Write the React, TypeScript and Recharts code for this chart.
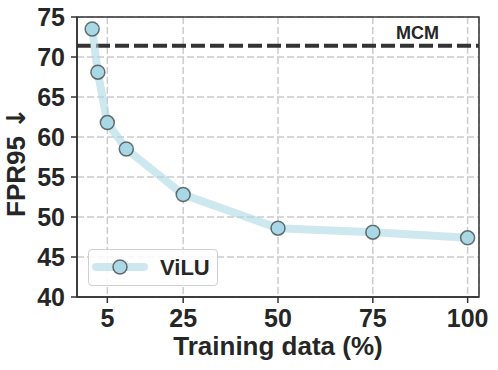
import React from 'react';
import {
  LineChart, Line, XAxis, YAxis, CartesianGrid, ReferenceLine, ReferenceArea, Legend,
} from 'recharts';

const trainingPct = [1, 2.5, 5, 10, 25, 50, 75, 100];
const viluFpr = [73.5, 68.1, 61.8, 58.5, 52.8, 48.6, 48.1, 47.4];
const mcmFpr = 71.4;
const xTicks = [5, 25, 50, 75, 100];
const yTicks = [40, 45, 50, 55, 60, 65, 70, 75];

const data = trainingPct.map((x, i) => ({ x, vilu: viluFpr[i] }));

const FONT = '"Liberation Sans", Arial, sans-serif';
const TXT = '#262626';

const renderLegend = () => (
  <div
    style={{
      width: 128,
      height: 35,
      border: '1px solid #d0d0d0',
      borderRadius: 4,
      background: 'rgba(255,255,255,0.85)',
      position: 'relative',
      fontFamily: FONT,
    }}
  >
    <svg width={128} height={35} style={{ position: 'absolute', left: 0, top: 0 }}>
      <line x1={7} y1={17} x2={55} y2={17} stroke="#add8e6" strokeOpacity={0.6} strokeWidth={8} strokeLinecap="round" />
      <circle cx={31} cy={17} r={7} fill="#add8e6" stroke="#1a1a1a" strokeOpacity={0.6} strokeWidth={1.5} />
      <text x={71} y={25} fontSize={22} fontWeight="bold" fill={TXT} fontFamily={FONT}>ViLU</text>
    </svg>
  </div>
);

const mcmLabel = (props: any) => {
  const vb = props.viewBox || {};
  return (
    <text
      x={vb.x + vb.width - 40}
      y={vb.y - 7}
      textAnchor="end"
      fontSize={18}
      fontWeight="bold"
      fill={TXT}
      fontFamily={FONT}
    >
      MCM
    </text>
  );
};

const xLabel = (props: any) => {
  const vb = props.viewBox || {};
  return (
    <text x={vb.x + vb.width / 2} y={355} textAnchor="middle" fontSize={26} fontWeight="bold" fill={TXT} fontFamily={FONT}>
      Training data (%)
    </text>
  );
};

const yLabel = () => (
  <text
    x={25}
    y={217}
    transform="rotate(-90, 25, 217)"
    textAnchor="start"
    fontSize={26}
    fontWeight="bold"
    fill={TXT}
    fontFamily={FONT}
  >
    FPR95 <tspan fontFamily='"DejaVu Sans", sans-serif'>↓</tspan>
  </text>
);

export default function App() {
  return (
    <div style={{ position: 'absolute', left: 0, top: 0, width: 498, height: 370, background: '#fff' }}>
      <LineChart
        width={498}
        height={370}
        data={data}
        margin={{ top: 17, right: 19, left: 0, bottom: 0 }}
        style={{ fontFamily: FONT }}
      >
        <CartesianGrid stroke="#cccccc" strokeWidth={1.5} strokeDasharray="7 3" />
        <XAxis
          dataKey="x"
          type="number"
          domain={[-3, 103]}
          ticks={xTicks}
          allowDataOverflow
          height={73}
          tickSize={6}
          tickMargin={6}
          axisLine={{ stroke: '#333', strokeWidth: 1.5 }}
          tickLine={{ stroke: '#333', strokeWidth: 1.5 }}
          tick={{ fill: TXT, fontSize: 25, fontWeight: 'bold', fontFamily: FONT }}
          label={xLabel}
        />
        <YAxis
          type="number"
          domain={[40, 75]}
          ticks={yTicks}
          allowDataOverflow
          width={77}
          tickSize={6}
          tickMargin={6}
          axisLine={{ stroke: '#333', strokeWidth: 1.5 }}
          tickLine={{ stroke: '#333', strokeWidth: 1.5 }}
          tick={{ fill: TXT, fontSize: 25, fontWeight: 'bold', fontFamily: FONT }}
          label={yLabel}
        />
        <ReferenceArea x1={-3} x2={103} y1={40} y2={75} fill="none" stroke="#333" strokeWidth={1.5} ifOverflow="visible" />
        <ReferenceLine
          y={mcmFpr}
          stroke="#333"
          strokeWidth={4}
          strokeDasharray="14 5"
          label={mcmLabel}
        />
        <Line
          dataKey="vilu"
          name="ViLU"
          type="linear"
          stroke="#add8e6"
          strokeOpacity={0.6}
          strokeWidth={8}
          strokeLinejoin="round"
          strokeLinecap="round"
          dot={{ r: 7, fill: '#a8d8e6', stroke: '#1a1a1a', strokeWidth: 1.5, fillOpacity: 1 }}
          activeDot={false}
          isAnimationActive={false}
        />
        <Legend
          layout="vertical"
          align="center"
          verticalAlign="middle"
          content={renderLegend}
          wrapperStyle={{ position: 'absolute', left: 88, top: 249, width: 130, height: 37 }}
        />
      </LineChart>
    </div>
  );
}
